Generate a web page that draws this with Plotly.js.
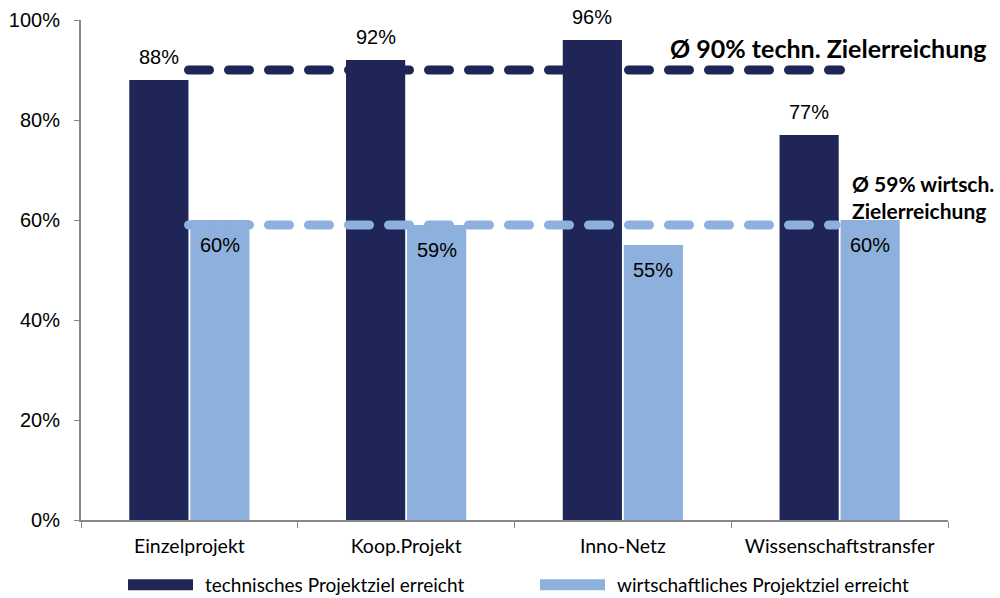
<!DOCTYPE html>
<html>
<head>
<meta charset="utf-8">
<script src="https://cdn.plot.ly/plotly-3.0.1.min.js"></script>
<style>html,body{margin:0;padding:0;background:#fff;}#chart{width:1000px;height:598px;}</style>
</head>
<body>
<div id="chart"></div>
<script>
const categories = ["Einzelprojekt", "Koop.Projekt", "Inno-Netz", "Wissenschaftstransfer"];
const techValues = [88, 92, 96, 77];
const wirtValues = [60, 59, 55, 60];
const techAvg = 90;
const wirtAvg = 59;
const seriesNames = ["technisches Projektziel erreicht", "wirtschaftliches Projektziel erreicht"];
const yTicks = [0, 20, 40, 60, 80, 100];

const darkColor = "#1F2556";
const lightColor = "#8DB0DC";
const labelFont = {family: "Liberation Sans, Arial", size: 20, color: "#000"};

const traces = [
  {type: "bar", name: seriesNames[0], x: categories, y: techValues,
    marker: {color: darkColor}, hoverinfo: "skip"},
  {type: "bar", name: seriesNames[1], x: categories, y: wirtValues,
    marker: {color: lightColor}, hoverinfo: "skip"}
];

const barLabels = [];
categories.forEach((c, i) => {
  barLabels.push({xref: "x", yref: "y", x: c, y: techValues[i], xshift: -30.5, yshift: 23,
    xanchor: "center", yanchor: "middle", text: techValues[i] + "%", showarrow: false, font: labelFont});
  barLabels.push({xref: "x", yref: "y", x: c, y: wirtValues[i], xshift: 30.5, yshift: -25,
    xanchor: "center", yanchor: "middle", text: wirtValues[i] + "%", showarrow: false, font: labelFont});
});

const layout = {
  width: 1000, height: 598,
  margin: {l: 81, r: 52, t: 20, b: 78},
  paper_bgcolor: "#fff", plot_bgcolor: "#fff",
  barmode: "group", bargap: 0.437, bargroupgap: 0.03,
  showlegend: true,
  legend: {orientation: "h", xref: "container", x: 0.165, xanchor: "left", yref: "container", y: 0.022, yanchor: "middle",
    font: {family: "Lato, sans-serif", size: 19, color: "#000"}, traceorder: "normal",
    entrywidth: 367, entrywidthmode: "pixels"},
  xaxis: {
    type: "category", showline: true, linecolor: "#888", linewidth: 2,
    ticks: "outside", tickson: "boundaries", ticklen: 6, tickcolor: "#888", tickwidth: 1,
    tickfont: {family: "Lato, sans-serif", size: 19.5, color: "#000"}, ticklabelstandoff: 8,
    showgrid: false, zeroline: false, automargin: false
  },
  yaxis: {
    range: [0, 100], tickvals: yTicks, ticktext: yTicks.map(v => v + "%"),
    showline: true, linecolor: "#888", linewidth: 2,
    ticks: "outside", ticklen: 5, tickcolor: "#888",
    tickfont: {family: "Liberation Sans, Arial", size: 20, color: "#000"}, ticklabelstandoff: 10,
    showgrid: false, zeroline: false, automargin: false
  },
  shapes: [
    {type: "line", xref: "paper", yref: "y", x0: 0.124, x1: 0.876, y0: techAvg, y1: techAvg,
      line: {color: darkColor, width: 9, dash: "21px,19px"}},
    {type: "line", xref: "paper", yref: "y", x0: 0.124, x1: 0.871, y0: wirtAvg, y1: wirtAvg,
      line: {color: lightColor, width: 9, dash: "21px,19px"}}
  ],
  annotations: barLabels.concat([
    {xref: "paper", yref: "paper", x: 0.677, y: 0.944, xanchor: "left", yanchor: "middle",
      text: "<b>Ø " + techAvg + "% techn. Zielerreichung</b>", showarrow: false,
      font: {family: "Lato, sans-serif", size: 25, color: "#000"}},
    {xref: "paper", yref: "paper", x: 0.887, y: 0.646, xanchor: "left", yanchor: "middle", align: "left",
      text: "<b>Ø " + wirtAvg + "% wirtsch.<br>Zielerreichung</b>", showarrow: false,
      font: {family: "Lato, sans-serif", size: 21, color: "#000"}}
  ])
};

Plotly.newPlot("chart", traces, layout, {staticPlot: true, displayModeBar: false}).then(() => {
  document.querySelectorAll("#chart .shapelayer path").forEach(p => {
    p.style.strokeLinecap = "round";
  });
  document.querySelectorAll("#chart .legend [clip-path]").forEach(el => {
    el.removeAttribute("clip-path");
  });
  document.querySelectorAll("#chart .legend .legendpoints path").forEach(p => {
    p.setAttribute("d", "M8,5.5H-57V-5.5H8Z");
  });
});
</script>
</body>
</html>
